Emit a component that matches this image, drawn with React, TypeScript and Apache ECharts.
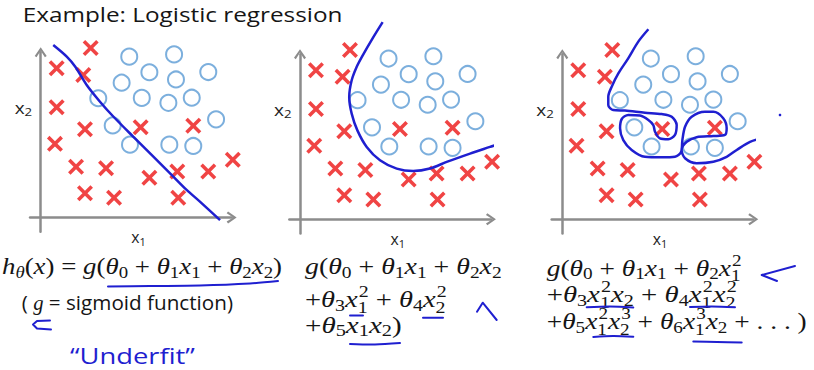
import React, { useEffect, useRef } from 'react';
import * as echarts from 'echarts';

// ---------- data (x1, x2 in axis units) ----------
const crossX1 = [2.63, 0.84, 2.24, 0.84, 2.33, 5.26, 8.03, 0.75, 1.86, 3.44, 5.72, 7.19, 8.82, 10.11, 2.33, 3.86, 7.24];
const crossX2 = [8.91, 7.85, 7.5, 5.8, 4.64, 4.75, 4.82, 3.87, 2.67, 2.59, 2.09, 2.41, 2.41, 3.03, 1.27, 1.04, 1.04];
const circleX1 = [4.66, 7.02, 5.72, 7.12, 8.82, 4.26, 3.03, 5.32, 6.72, 7.95, 9.23, 3.79, 4.7, 6.77, 8.03];
const circleX2 = [8.46, 8.58, 7.64, 7.26, 7.65, 7.09, 6.27, 6.29, 6.03, 6.3, 5.16, 4.84, 3.83, 3.83, 3.76];

const linearX1 = [0.66, 1.37, 1.81, 2.42, 3.12, 3.82, 4.87, 5.93, 6.98, 7.68, 8.38, 9.44];
const linearX2 = [9.07, 8.46, 7.94, 6.97, 6.09, 5.31, 4.25, 3.2, 2.15, 1.45, 0.83, -0.14];

const quadX1 = [4.35, 3.86, 3.25, 2.98, 2.72, 2.59, 2.72, 3.02, 3.51, 4.21, 5.09, 5.96, 6.84, 7.72, 8.95, 10.0, 11.05, 11.84];
const quadX2 = [10.38, 9.59, 8.54, 8.02, 7.32, 6.44, 5.56, 4.68, 3.81, 3.11, 2.67, 2.54, 2.67, 3.02, 3.46, 3.81, 4.16, 4.51];

const wiggleX1 = [4.53, 4.0, 3.47, 2.95, 2.6, 2.42, 2.42, 2.68, 3.3, 4.35, 5.23, 5.76, 6.02, 5.93, 5.58, 5.14, 4.88, 4.79, 4.53, 4.09, 3.47, 3.13, 3.04, 3.21, 3.65, 4.35, 5.23, 5.93, 6.25, 6.32, 6.46, 6.81, 7.51, 7.95, 8.47, 8.65, 8.56, 7.95, 7.07, 6.55, 6.28, 6.46, 7.07, 7.95, 8.65, 9.18, 9.88, 10.76, 11.46, 11.89];
const wiggleX2 = [10.0, 9.35, 8.47, 7.68, 6.98, 6.45, 6.02, 5.75, 5.72, 5.61, 5.54, 5.4, 4.96, 4.44, 4.21, 4.26, 4.61, 4.96, 5.23, 5.46, 5.49, 5.28, 4.79, 4.17, 3.65, 3.29, 3.26, 3.29, 3.54, 4.17, 4.87, 5.4, 5.66, 5.66, 5.32, 4.79, 4.44, 4.38, 4.32, 4.08, 3.65, 3.21, 2.95, 3.03, 3.29, 3.65, 4.08, 4.35, 4.61, 4.87];

// ---------- texts ----------
const titleText = 'Example: Logistic regression';
const axisNameX = 'x_1';
const axisNameY = 'x_2';
const formula1 = ['h_θ(x) = g(θ_0 + θ_1x_1 + θ_2x_2)', '§( §g§ = sigmoid function)'];
const formula2 = ['g(θ_0 + θ_1x_1 + θ_2x_2', '+θ_3x_1^2 + θ_4x_2^2', '+θ_5x_1x_2)'];
const formula3 = ['g(θ_0 + θ_1x_1 + θ_2x_1^2', '+θ_3x_1^2x_2 + θ_4x_1^2x_2^2', '+θ_5x_1^2x_2^3 + θ_6x_1^3x_2 + . . . )'];
const noteText = '“Underfit”';

// ---------- styles / layout ----------
const RED = '#ec1515';
const CIRCLE = '#5b9bd5';
const INK = '#1f1fd0';
const TEXT = '#151515';
const AXIS = '#8c8c8c';
const MATH_FONT = '"Liberation Serif", "DejaVu Serif", serif';
const SANS_FONT = '"Open Sans", "Noto Sans", "DejaVu Sans", sans-serif';
const X_PATH = 'path://M0,2.2 L2.2,0 L7,4.8 L11.8,0 L14,2.2 L9.2,7 L14,11.8 L11.8,14 L7,9.2 L2.2,14 L0,11.8 L4.8,7 Z';
const ARROW = 'path://M0,8.6 L6,0 L12,8.6 L10.2,10 L6,3.4 L1.8,10 Z';

const ORIGINS = [
  [40.7, 217.4],
  [300, 219.3],
  [562.3, 219.3],
];
const PX = 19;
const X_MIN = -0.56, X_MAX = 10.05, Y_MIN = -0.75, Y_MAX = 8.69;

let measureCtx: CanvasRenderingContext2D | null = null;
function textWidth(t: string, font: string): number {
  if (!measureCtx) measureCtx = document.createElement('canvas').getContext('2d');
  if (!measureCtx) return t.length * 10;
  measureCtx.font = font;
  return measureCtx.measureText(t).width;
}
function fontOf(ch: string, size: number, sans: boolean): string {
  if (sans) return `${size}px ${SANS_FONT}`;
  const italic = /[a-zA-Zθ]/.test(ch);
  return `${italic ? 'italic ' : ''}${size}px ${MATH_FONT}`;
}
function textEl(t: string, x: number, shift: number, size: number, sans: boolean, color: string) {
  return {
    type: 'text',
    x,
    y: shift - (sans ? 0.39 : 0.34) * size,
    silent: true,
    style: {
      text: t,
      font: fontOf(t, size, sans),
      fill: color,
      align: 'left',
      textAlign: 'left',
      verticalAlign: 'middle',
      textVerticalAlign: 'middle',
    },
  };
}
function layoutRow(src: string, size: number, color: string, startSans: boolean) {
  const items: any[] = [];
  const chars = Array.from(src);
  let x = 0;
  let sans = startSans;
  let i = 0;
  while (i < chars.length) {
    const c = chars[i];
    if (c === '§') { sans = !sans; i++; continue; }
    if (sans) {
      let run = '';
      while (i < chars.length && !'§_^'.includes(chars[i])) { run += chars[i]; i++; }
      const f = fontOf(run, size, true);
      const lead = (run.match(/^\s*/) || [''])[0];
      const core = run.trim();
      x += textWidth(lead, f);
      if (core) items.push(textEl(core, x, 0, size, true, color));
      x += textWidth(run, f) - textWidth(lead, f);
    } else {
      if (c !== ' ') items.push(textEl(c, x, 0, size, false, color));
      x += textWidth(c, fontOf(c, size, false));
      i++;
    }
    let sub = '', sup = '';
    while (i < chars.length && (chars[i] === '_' || chars[i] === '^')) {
      if (chars[i] === '_') sub = chars[i + 1] || ''; else sup = chars[i + 1] || '';
      i += 2;
    }
    if (sub || sup) {
      const s = size * 0.7;
      const both = !!sub && !!sup;
      let w = 0;
      if (sup) {
        items.push(textEl(sup, x + 0.04 * size, -(both ? 0.42 : 0.37) * size, s, sans, color));
        w = Math.max(w, 0.04 * size + textWidth(sup, fontOf(sup, s, sans)));
      }
      if (sub) {
        items.push(textEl(sub, x, (both ? 0.25 : 0.16) * size, s, sans, color));
        w = Math.max(w, textWidth(sub, fontOf(sub, s, sans)));
      }
      x += w;
    }
  }
  return { items, width: x };
}
function row(src: string, x0: number, x1: number | null, baseline: number, size: number, color: string, sans = false) {
  const { items, width } = layoutRow(src, size, color, sans);
  const scaleX = x1 ? (x1 - x0) / width : 1;
  return { type: 'group', x: x0, y: baseline, scaleX, silent: true, children: items };
}
function stroke(points: number[][], smooth = 0, width = 2) {
  return {
    type: 'polyline',
    silent: true,
    shape: { points, smooth },
    style: { stroke: INK, lineWidth: width, fill: 'none', lineCap: 'round', lineJoin: 'round' },
  };
}

function zip(a: number[], b: number[]) {
  return a.map((v, i) => [v, b[i]]);
}

function buildOption() {
  const grids = ORIGINS.map(([ox, oy]) => ({
    left: ox + X_MIN * PX,
    top: oy - Y_MAX * PX,
    width: (X_MAX - X_MIN) * PX,
    height: (Y_MAX - Y_MIN) * PX,
    containLabel: false,
    outerBoundsMode: 'none',
  }));
  const axisCommon = (min: number, max: number, i: number) => ({
    type: 'value',
    gridIndex: i,
    min,
    max,
    axisLine: {
      show: true,
      onZero: true,
      symbol: ['none', ARROW],
      symbolSize: [12, 10],
      lineStyle: { color: AXIS, width: 2.5 },
    },
    axisTick: { show: false },
    axisLabel: { show: false },
    splitLine: { show: false },
  });
  const boundaries = [zip(linearX1, linearX2), zip(quadX1, quadX2), zip(wiggleX1, wiggleX2)];
  const series: any[] = [];
  ORIGINS.forEach((_, i) => {
    series.push({
      type: 'scatter',
      xAxisIndex: i,
      yAxisIndex: i,
      data: zip(crossX1, crossX2),
      symbol: X_PATH,
      symbolSize: 16,
      itemStyle: { color: RED },
      clip: false,
      silent: true,
      z: 2,
    });
    series.push({
      type: 'scatter',
      xAxisIndex: i,
      yAxisIndex: i,
      data: zip(circleX1, circleX2),
      symbol: 'circle',
      symbolSize: 16,
      itemStyle: { color: 'rgba(0,0,0,0)', borderColor: CIRCLE, borderWidth: 2 },
      clip: false,
      silent: true,
      z: 2,
    });
    series.push({
      type: 'line',
      xAxisIndex: i,
      yAxisIndex: i,
      data: boundaries[i],
      showSymbol: false,
      symbol: 'none',
      smooth: 0.3,
      lineStyle: { color: INK, width: 2.5 },
      clip: false,
      silent: true,
      z: 3,
    });
  });

  const graphics: any[] = [];
  graphics.push(row(titleText, 22.7, 342.7, 21.7, 20, TEXT, true));
  ORIGINS.forEach(([ox, oy]) => {
    graphics.push(row(axisNameX, ox + 90.5, ox + 105, oy + 25.5, 16, '#222', true));
    graphics.push(row(axisNameY, ox - 26, ox - 8.5, oy - 103.5, 16, '#222', true));
  });
  // formulas
  graphics.push(row(formula1[0], 2, 282, 274.5, 23, TEXT));
  graphics.push(row(formula1[1], 21.7, 233, 310, 20, TEXT, false));
  graphics.push(row(formula2[0], 305, 501.7, 274.5, 23, TEXT));
  graphics.push(row(formula2[1], 305, 446.7, 307, 23, TEXT));
  graphics.push(row(formula2[2], 305, 401.7, 333, 23, TEXT));
  graphics.push(row(formula3[0], 546.7, 741.7, 275.5, 23, TEXT));
  graphics.push(row(formula3[1], 546.7, 736.7, 302, 23, TEXT));
  graphics.push(row(formula3[2], 546.7, 806.7, 329, 23, TEXT));
  graphics.push(row(noteText, 70, 195, 364, 22, INK, true));
  // hand-drawn annotations
  graphics.push(stroke([[108, 286.5], [150, 286], [200, 285.5], [250, 283.5], [278, 281]], 0.3));
  graphics.push(stroke([[50, 320.5], [37, 321], [33, 324.5], [37, 328.5], [51, 329.5]]));
  graphics.push(stroke([[350, 315.5], [363, 315.5]]));
  graphics.push(stroke([[423, 317.7], [443, 317.7]]));
  graphics.push(stroke([[350, 344], [375, 344.5], [400, 343]], 0.3));
  graphics.push(stroke([[477, 311.7], [482.7, 302.7], [496.7, 320]]));
  graphics.push(stroke([[586.7, 307.3], [610, 306.5], [633.3, 307.5]], 0.3));
  graphics.push(stroke([[690, 307], [712, 306.5], [735, 307.3]], 0.3));
  graphics.push(stroke([[593.3, 337], [613, 336], [633.3, 336.7]], 0.3));
  graphics.push(stroke([[693.3, 341.5], [717, 342], [741.7, 342.5]], 0.3));
  graphics.push(stroke([[795, 266], [761.7, 275], [777, 281]]));
  graphics.push({ type: 'circle', silent: true, shape: { cx: 780, cy: 115, r: 1.3 }, style: { fill: INK } });

  return {
    animation: false,
    backgroundColor: '#ffffff',
    grid: grids,
    xAxis: ORIGINS.map((_, i) => axisCommon(X_MIN, X_MAX, i)),
    yAxis: ORIGINS.map((_, i) => axisCommon(Y_MIN, Y_MAX, i)),
    series,
    graphic: graphics,
  };
}

export default function App() {
  const ref = useRef<HTMLDivElement>(null);
  useEffect(() => {
    if (!ref.current) return;
    const chart = echarts.init(ref.current, undefined, { renderer: 'svg' });
    chart.setOption(buildOption() as any);
    return () => chart.dispose();
  }, []);
  return (
    <div
      ref={ref}
      style={{ position: 'fixed', left: 0, top: 0, width: 814, height: 370, background: '#fff' }}
    />
  );
}
